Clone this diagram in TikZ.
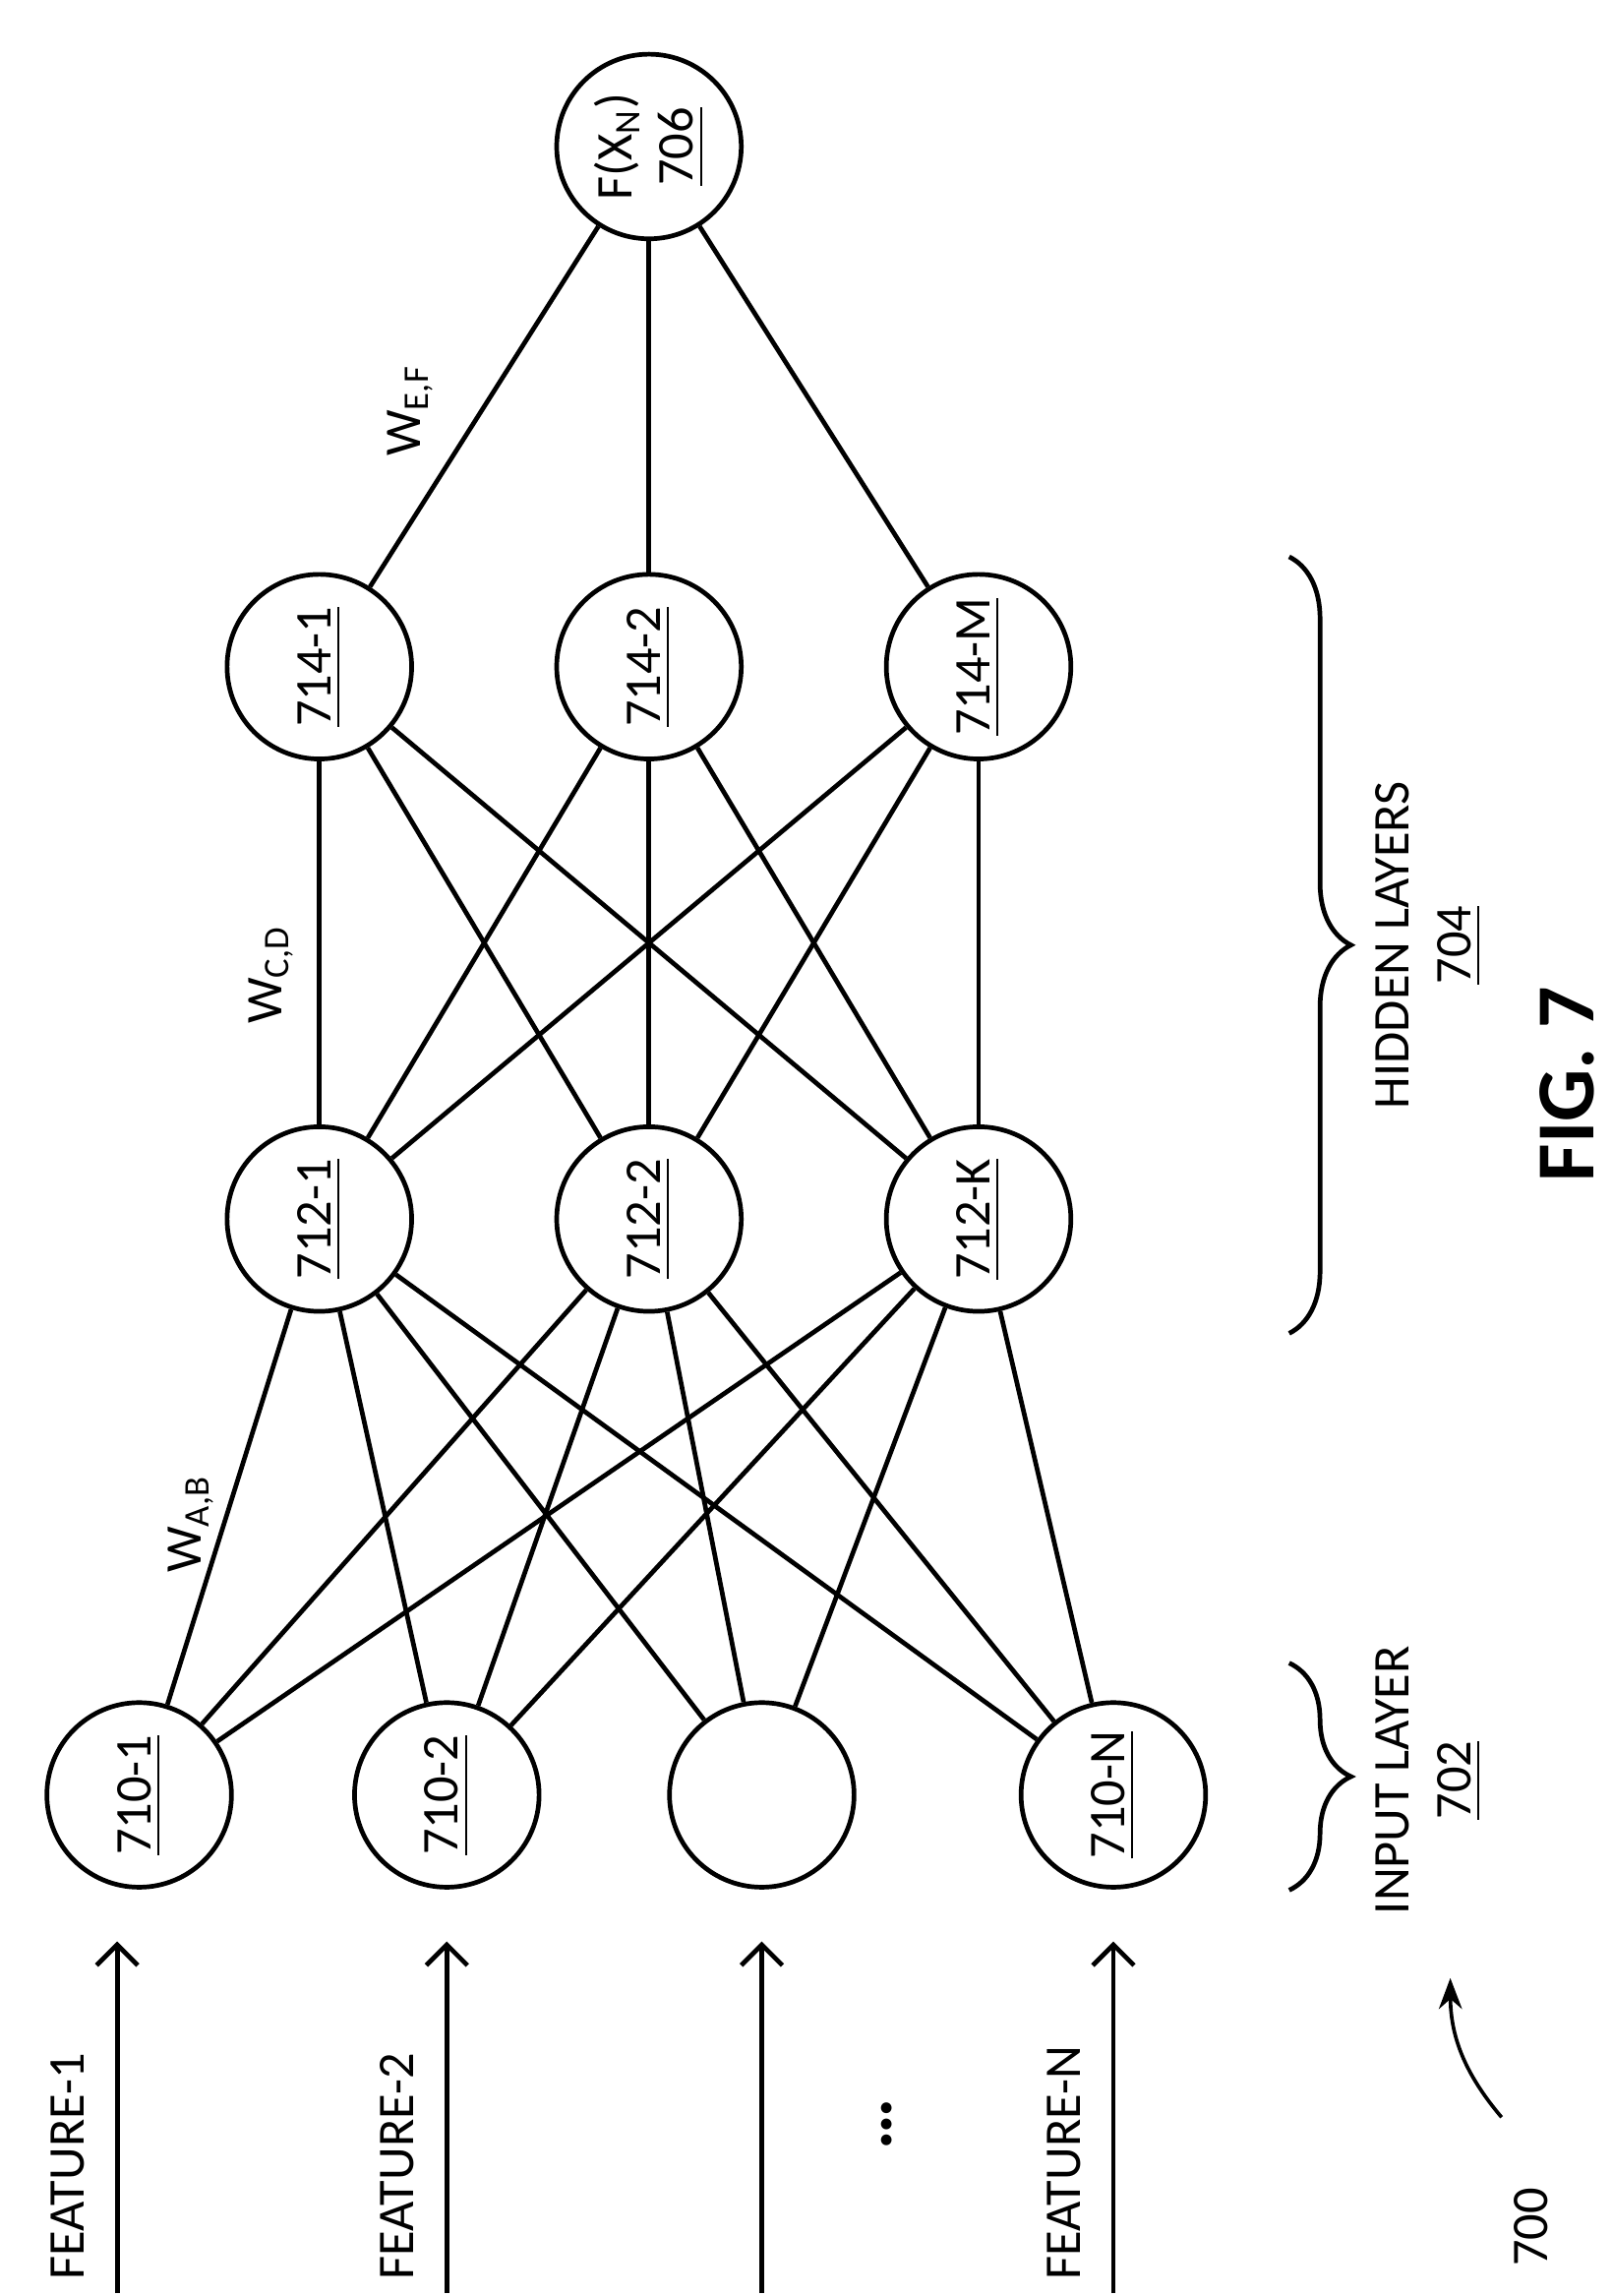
\documentclass[tikz,border=0pt]{standalone}
\usepackage{fontspec}
\setmainfont{Carlito}
\usetikzlibrary{decorations.pathreplacing,arrows.meta}
\begin{document}
\begin{tikzpicture}[x=0.1mm,y=-0.1mm, font=\fontsize{10}{12}\selectfont,
  neuron/.style={circle,draw,line width=0.9pt,minimum size=12.6mm,inner sep=0pt,rotate=90},
  lbl/.style={rotate=90,inner sep=1pt},
  link/.style={line width=0.9pt}]
\useasboundingbox (0,0) rectangle (1100,1567);
% input layer
\node [neuron] (i1) at (95,1225) {\underline{710-1}};
\node [neuron] (i2) at (305,1225) {\underline{710-2}};
\node [neuron] (i3) at (520,1225) {};
\node [neuron] (i4) at (760,1225) {\underline{710-N}};
% hidden layers
\node [neuron] (h1) at (218,832) {\underline{712-1}};
\node [neuron] (h2) at (443,832) {\underline{712-2}};
\node [neuron] (h3) at (668,832) {\underline{712-K}};
\node [neuron] (g1) at (218,455) {\underline{714-1}};
\node [neuron] (g2) at (443,455) {\underline{714-2}};
\node [neuron] (g3) at (668,455) {\underline{714-M}};
% output
\node [neuron,align=center] (out) at (443,100) {F(X\textsubscript{N})\\\underline{706}};
\foreach \a in {i1,i2,i3,i4}
  \foreach \b in {h1,h2,h3}
    \draw [link] (\a) -- (\b);
\foreach \a in {h1,h2,h3}
  \foreach \b in {g1,g2,g3}
    \draw [link] (\a) -- (\b);
\foreach \a in {g1,g2,g3}
  \draw [link] (\a) -- (out);
% weights
\node [lbl] (wab) at (130,1040) {W\textsubscript{A,B}};
\node [lbl] (wcd) at (185,665) {W\textsubscript{C,D}};
\node [lbl] (wef) at (280,280) {W\textsubscript{E,F}};
% features
\foreach \x/\n/\t in {80/1/FEATURE-1,305/2/FEATURE-2,520/3/,760/4/FEATURE-N}{
  \coordinate (fs\n) at (\x,1565);
  \coordinate (fe\n) at (\x,1325);
  \draw [line width=0.9pt,-{Straight Barb[length=4pt,width=8pt]}] (fs\n) -- (fe\n);
  \node [lbl,anchor=south west] (ft\n) at (\x-18,1560) {\t};
}
\node [lbl,font=\fontsize{14}{14}\selectfont\bfseries] (dots) at (605,1450) {\dots};
% braces
\coordinate (b1) at (880,1135);
\coordinate (b2) at (880,1290);
\draw [line width=0.9pt,decorate,decoration={brace,amplitude=12pt}] (b1) -- (b2);
\coordinate (b3) at (880,380);
\coordinate (b4) at (880,910);
\draw [line width=0.9pt,decorate,decoration={brace,amplitude=12pt}] (b3) -- (b4);
\node [lbl,align=center] (inl) at (975,1215) {INPUT LAYER\\\underline{702}};
\node [lbl,align=center] (hidl) at (975,645) {HIDDEN LAYERS\\\underline{704}};
\node [lbl,font=\fontsize{16}{16}\selectfont\bfseries] (fig) at (1070,740) {FIG. 7};
\node [lbl] (ref) at (1045,1520) {700};
\coordinate (rs) at (1025,1445);
\coordinate (re) at (990,1350);
\draw [line width=0.7pt,-{Stealth[length=6pt]}] (rs) to[bend left=20] (re);
\end{tikzpicture}
\end{document}
